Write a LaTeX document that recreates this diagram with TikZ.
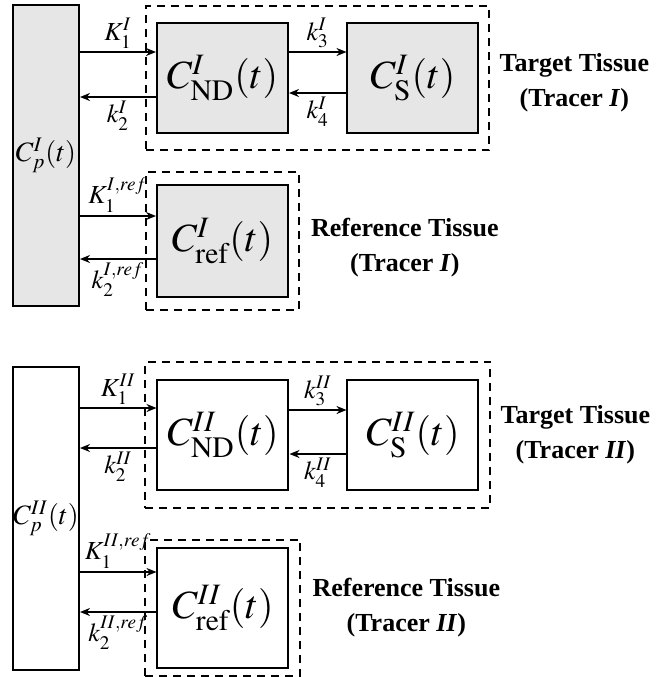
\documentclass[tikz,border=0pt]{standalone}
\usepackage{mathptmx}
\usepackage{fontspec}
\setmainfont{Liberation Serif}
\usepackage{xcolor}
\usepackage{tikz}
\usetikzlibrary{
  arrows.meta,
  positioning,
  fit
}
\definecolor{boxgray}{HTML}{E6E6E6}

\begin{document}
\begin{tikzpicture}[
  x=0.5pt, y=-0.5pt,
  comp/.style={
    rectangle, draw=black, line width=1pt,
    minimum width=65.5pt, minimum height=55pt,
    inner sep=0pt, font=\fontsize{20}{22}\selectfont
  },
  plasma/.style={
    rectangle, draw=black, line width=1pt,
    minimum width=33pt, inner sep=0pt,
    font=\fontsize{14}{16}\selectfont
  },
  region/.style={
    rectangle, draw=black, line width=1pt,
    dash pattern=on 4pt off 3pt
  },
  tissue/.style={
    align=center, font=\bfseries\fontsize{13}{17.5}\selectfont
  },
  rate/.style={font=\fontsize{13}{15}\selectfont, inner sep=1.5pt},
  arr/.style={-{Stealth[length=5pt,width=4pt]}, line width=1pt},
]
\useasboundingbox (0,0) rectangle (658,677);

% ---------------- Tracer I ----------------
% Plasma
\node[plasma, fill=boxgray, minimum height=150.5pt] (cpA) at (46,155.5) {$C_p^{I}(t)$};

% Target tissue compartments
\node[comp, fill=boxgray] (ndA) at (222.5,78) {$C_{\mathrm{ND}}^{I}(t)$};
\node[comp, fill=boxgray] (sA) at (413,78) {$C_{\mathrm{S}}^{I}(t)$};
\node[region, fit=(ndA)(sA), inner xsep=5pt, inner ysep=8pt] (tgtA) {};
\node[tissue, right=1pt of tgtA, yshift=-2.5pt] (tgtlabA) {Target Tissue\\(Tracer \textit{I})};

% Reference compartment
\node[comp, fill=boxgray, minimum height=56pt] (refA) at (222.5,241) {$C_{\mathrm{ref}}^{I}(t)$};
\node[region, fit=(refA), inner xsep=5pt, inner ysep=6pt] (rgnA) {};
\node[tissue, right=2pt of rgnA, yshift=-3.5pt] (reflabA) {Reference Tissue\\(Tracer \textit{I})};

% Arrows
\coordinate (k1A) at ([yshift=13pt]ndA.west);
\coordinate (k2A) at ([yshift=-9.5pt]ndA.west);
\coordinate (k3A) at ([yshift=13pt]sA.west);
\coordinate (k4A) at ([yshift=-7.5pt]sA.west);
\draw[arr] (cpA.east |- k1A) -- (k1A) node[rate, midway, above] {$K_1^{I}$};
\draw[arr] (k2A) -- (cpA.east |- k2A) node[rate, midway, below] {$k_2^{I}$};
\draw[arr] (ndA.east |- k3A) -- (k3A) node[rate, midway, above] {$k_3^{I}$};
\draw[arr] (k4A) -- (ndA.east |- k4A) node[rate, midway, below] {$k_4^{I}$};

\coordinate (r1A) at ([yshift=12.5pt]refA.west);
\coordinate (r2A) at ([yshift=-9pt]refA.west);
\draw[arr] (cpA.east |- r1A) -- (r1A) node[rate, midway, above] {$K_1^{I,ref}$};
\draw[arr] (r2A) -- (cpA.east |- r2A) node[rate, midway, below] {$k_2^{I,ref}$};

% ---------------- Tracer II ----------------
% Plasma
\node[plasma, minimum height=151.5pt] (cpB) at (46,518.5) {$C_p^{II}(t)$};

% Target tissue compartments
\node[comp] (ndB) at (223,435) {$C_{\mathrm{ND}}^{II}(t)$};
\node[comp] (sB) at (413,435) {$C_{\mathrm{S}}^{II}(t)$};
\node[region, fit=(ndB)(sB), inner xsep=5.5pt, inner ysep=8.5pt] (tgtB) {};
\node[tissue, right=1pt of tgtB] (tgtlabB) {Target Tissue\\(Tracer \textit{II})};

% Reference compartment
\node[comp, minimum height=60pt] (refB) at (223,608) {$C_{\mathrm{ref}}^{II}(t)$};
\node[region, fit=(refB), inner xsep=5.5pt, inner ysep=3.5pt] (rgnB) {};
\node[tissue, right=2pt of rgnB] (reflabB) {Reference Tissue\\(Tracer \textit{II})};

% Arrows
\coordinate (k1B) at ([yshift=13.5pt]ndB.west);
\coordinate (k2B) at ([yshift=-6.5pt]ndB.west);
\coordinate (k3B) at ([yshift=12.5pt]sB.west);
\coordinate (k4B) at ([yshift=-9.5pt]sB.west);
\draw[arr] (cpB.east |- k1B) -- (k1B) node[rate, midway, above] {$K_1^{II}$};
\draw[arr] (k2B) -- (cpB.east |- k2B) node[rate, midway, below] {$k_2^{II}$};
\draw[arr] (ndB.east |- k3B) -- (k3B) node[rate, midway, above] {$k_3^{II}$};
\draw[arr] (k4B) -- (ndB.east |- k4B) node[rate, midway, below] {$k_4^{II}$};

\coordinate (r1B) at ([yshift=18pt]refB.west);
\coordinate (r2B) at ([yshift=-2pt]refB.west);
\draw[arr] (cpB.east |- r1B) -- (r1B) node[rate, midway, above] {$K_1^{II,ref}$};
\draw[arr] (r2B) -- (cpB.east |- r2B) node[rate, midway, below] {$k_2^{II,ref}$};

\end{tikzpicture}
\end{document}
